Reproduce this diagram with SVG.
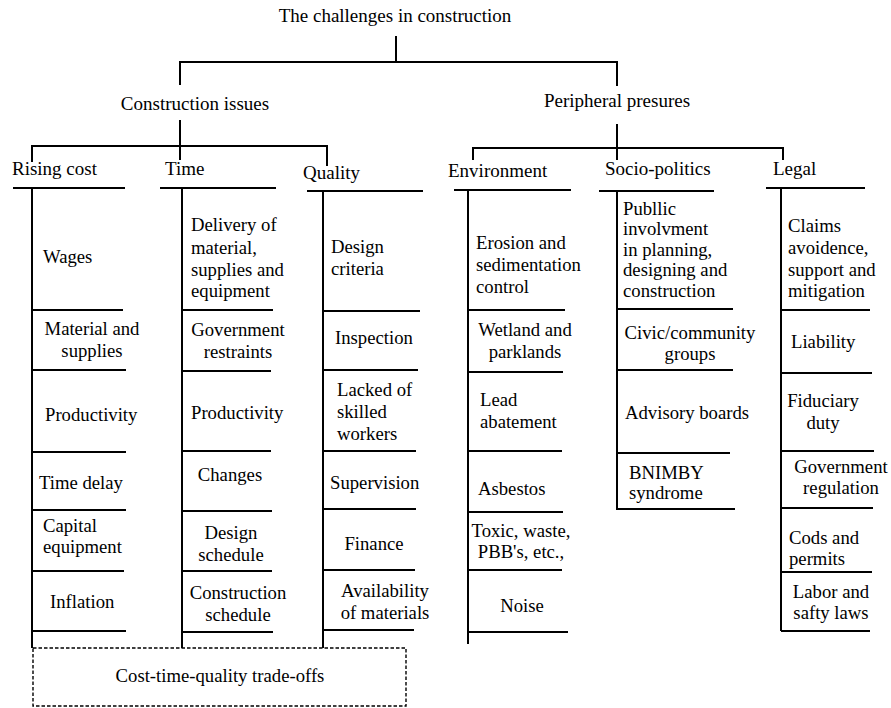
<svg xmlns="http://www.w3.org/2000/svg" width="891" height="708" viewBox="0 0 891 708">
<style>
text{font-family:'Liberation Serif','Times New Roman',serif;font-size:18.7px;fill:#000}
.h{font-size:19px}
.c{text-anchor:middle}
line{stroke:#000;stroke-width:2;fill:none}
.dash{stroke:#000;stroke-width:1.4;fill:none;stroke-dasharray:3.5 2}
</style>
<rect width="891" height="708" fill="#fff"/>
<g id="connectors">
<line x1="396" y1="36" x2="396" y2="63"/>
<line x1="179" y1="62" x2="618" y2="62"/>
<line x1="180" y1="61" x2="180" y2="85"/>
<line x1="617" y1="61" x2="617" y2="86"/>
<line x1="180" y1="120" x2="180" y2="160"/>
<line x1="31" y1="146" x2="328" y2="146"/>
<line x1="32" y1="145" x2="32" y2="162"/>
<line x1="327" y1="145" x2="327" y2="166"/>
<line x1="617" y1="124" x2="617" y2="160"/>
<line x1="472" y1="148" x2="784" y2="148"/>
<line x1="473" y1="147" x2="473" y2="160"/>
<line x1="783" y1="147" x2="783" y2="160"/>
</g>
<g id="root"><text class="h c" x="395" y="22">The challenges in construction</text></g>
<g id="construction-issues"><text class="h c" x="195" y="110">Construction issues</text></g>
<g id="peripheral-presures"><text class="h c" x="617" y="107">Peripheral presures</text></g>

<g id="rising-cost">
<line x1="13" y1="188" x2="125" y2="188"/>
<line x1="32" y1="188" x2="32" y2="648"/>
<line x1="32" y1="310" x2="123" y2="310"/>
<line x1="32" y1="370" x2="126" y2="370"/>
<line x1="32" y1="452" x2="126" y2="452"/>
<line x1="32" y1="510" x2="126" y2="510"/>
<line x1="32" y1="571" x2="124" y2="571"/>
<line x1="32" y1="631" x2="126" y2="631"/>
<text class="h" x="12" y="175">Rising cost</text>
<text x="43" y="263">Wages</text>
<text class="c" x="92" y="335">Material and</text>
<text class="c" x="92" y="357">supplies</text>
<text x="45" y="421">Productivity</text>
<text x="39" y="489">Time delay</text>
<text x="43" y="532">Capital</text>
<text x="43" y="553">equipment</text>
<text x="50" y="608">Inflation</text>
</g>

<g id="time">
<line x1="160" y1="188" x2="276" y2="188"/>
<line x1="182" y1="188" x2="182" y2="648"/>
<line x1="182" y1="310" x2="273" y2="310"/>
<line x1="182" y1="371" x2="271" y2="371"/>
<line x1="182" y1="451" x2="271" y2="451"/>
<line x1="182" y1="511" x2="272" y2="511"/>
<line x1="182" y1="571" x2="272" y2="571"/>
<line x1="182" y1="632" x2="273" y2="632"/>
<text class="h" x="165" y="175">Time</text>
<text x="191" y="231">Delivery of</text>
<text x="191" y="254">material,</text>
<text x="191" y="276">supplies and</text>
<text x="191" y="297">equipment</text>
<text class="c" x="238" y="336">Government</text>
<text class="c" x="238" y="358">restraints</text>
<text x="191" y="419">Productivity</text>
<text class="c" x="230" y="481">Changes</text>
<text class="c" x="231" y="539">Design</text>
<text class="c" x="231" y="561">schedule</text>
<text class="c" x="238" y="599">Construction</text>
<text class="c" x="238" y="621">schedule</text>
</g>

<g id="quality">
<line x1="307" y1="191" x2="423" y2="191"/>
<line x1="323" y1="191" x2="323" y2="648"/>
<line x1="323" y1="311" x2="420" y2="311"/>
<line x1="323" y1="370" x2="418" y2="370"/>
<line x1="323" y1="451" x2="416" y2="451"/>
<line x1="323" y1="509" x2="416" y2="509"/>
<line x1="323" y1="570" x2="415" y2="570"/>
<line x1="323" y1="630" x2="414" y2="630"/>
<text class="h" x="303" y="179">Quality</text>
<text x="331" y="253">Design</text>
<text x="331" y="275">criteria</text>
<text x="335" y="344">Inspection</text>
<text x="337" y="396">Lacked of</text>
<text x="337" y="418">skilled</text>
<text x="337" y="440">workers</text>
<text x="330" y="489">Supervision</text>
<text class="c" x="374" y="550">Finance</text>
<text class="c" x="385" y="597">Availability</text>
<text class="c" x="385" y="619">of materials</text>
</g>

<g id="environment">
<line x1="454" y1="190" x2="571" y2="190"/>
<line x1="468" y1="190" x2="468" y2="644"/>
<line x1="468" y1="310" x2="565" y2="310"/>
<line x1="468" y1="372" x2="563" y2="372"/>
<line x1="468" y1="451" x2="562" y2="451"/>
<line x1="468" y1="512" x2="563" y2="512"/>
<line x1="468" y1="570" x2="562" y2="570"/>
<line x1="468" y1="632" x2="568" y2="632"/>
<text class="h" x="448" y="177">Environment</text>
<text x="476" y="249">Erosion and</text>
<text x="476" y="271">sedimentation</text>
<text x="476" y="293">control</text>
<text class="c" x="525" y="336">Wetland and</text>
<text class="c" x="525" y="358">parklands</text>
<text x="480" y="406">Lead</text>
<text x="480" y="428">abatement</text>
<text x="478" y="495">Asbestos</text>
<text class="c" x="521" y="537">Toxic, waste,</text>
<text class="c" x="521" y="558">PBB's, etc.,</text>
<text class="c" x="522" y="612">Noise</text>
</g>

<g id="socio-politics">
<line x1="599" y1="191" x2="714" y2="191"/>
<line x1="617" y1="191" x2="617" y2="510"/>
<line x1="617" y1="309" x2="733" y2="309"/>
<line x1="617" y1="370" x2="733" y2="370"/>
<line x1="617" y1="453" x2="730" y2="453"/>
<line x1="617" y1="509" x2="735" y2="509"/>
<text class="h" x="605" y="175">Socio-politics</text>
<text x="623" y="215">Publlic</text>
<text x="623" y="235">involvment</text>
<text x="623" y="256">in planning,</text>
<text x="623" y="276">designing and</text>
<text x="623" y="297">construction</text>
<text class="c" x="690" y="339">Civic/community</text>
<text class="c" x="690" y="360">groups</text>
<text x="625" y="419">Advisory boards</text>
<text x="629" y="479">BNIMBY</text>
<text x="629" y="499">syndrome</text>
</g>

<g id="legal">
<line x1="766" y1="188" x2="865" y2="188"/>
<line x1="781" y1="188" x2="781" y2="631"/>
<line x1="781" y1="310" x2="870" y2="310"/>
<line x1="781" y1="373" x2="872" y2="373"/>
<line x1="781" y1="451" x2="874" y2="451"/>
<line x1="781" y1="508" x2="873" y2="508"/>
<line x1="781" y1="572" x2="872" y2="572"/>
<line x1="781" y1="631" x2="870" y2="631"/>
<text class="h" x="773" y="175">Legal</text>
<text x="788" y="232">Claims</text>
<text x="788" y="254">avoidence,</text>
<text x="788" y="276">support and</text>
<text x="788" y="297">mitigation</text>
<text x="791" y="348">Liability</text>
<text class="c" x="823" y="407">Fiduciary</text>
<text class="c" x="823" y="429">duty</text>
<text class="c" x="841" y="473">Government</text>
<text class="c" x="841" y="494">regulation</text>
<text x="789" y="544">Cods and</text>
<text x="789" y="565">permits</text>
<text class="c" x="831" y="598">Labor and</text>
<text class="c" x="831" y="619">safty laws</text>
</g>

<g id="trade-offs">
<rect class="dash" x="33" y="648" width="373" height="58"/>
<text class="c" x="220" y="682">Cost-time-quality trade-offs</text>
</g>
</svg>
